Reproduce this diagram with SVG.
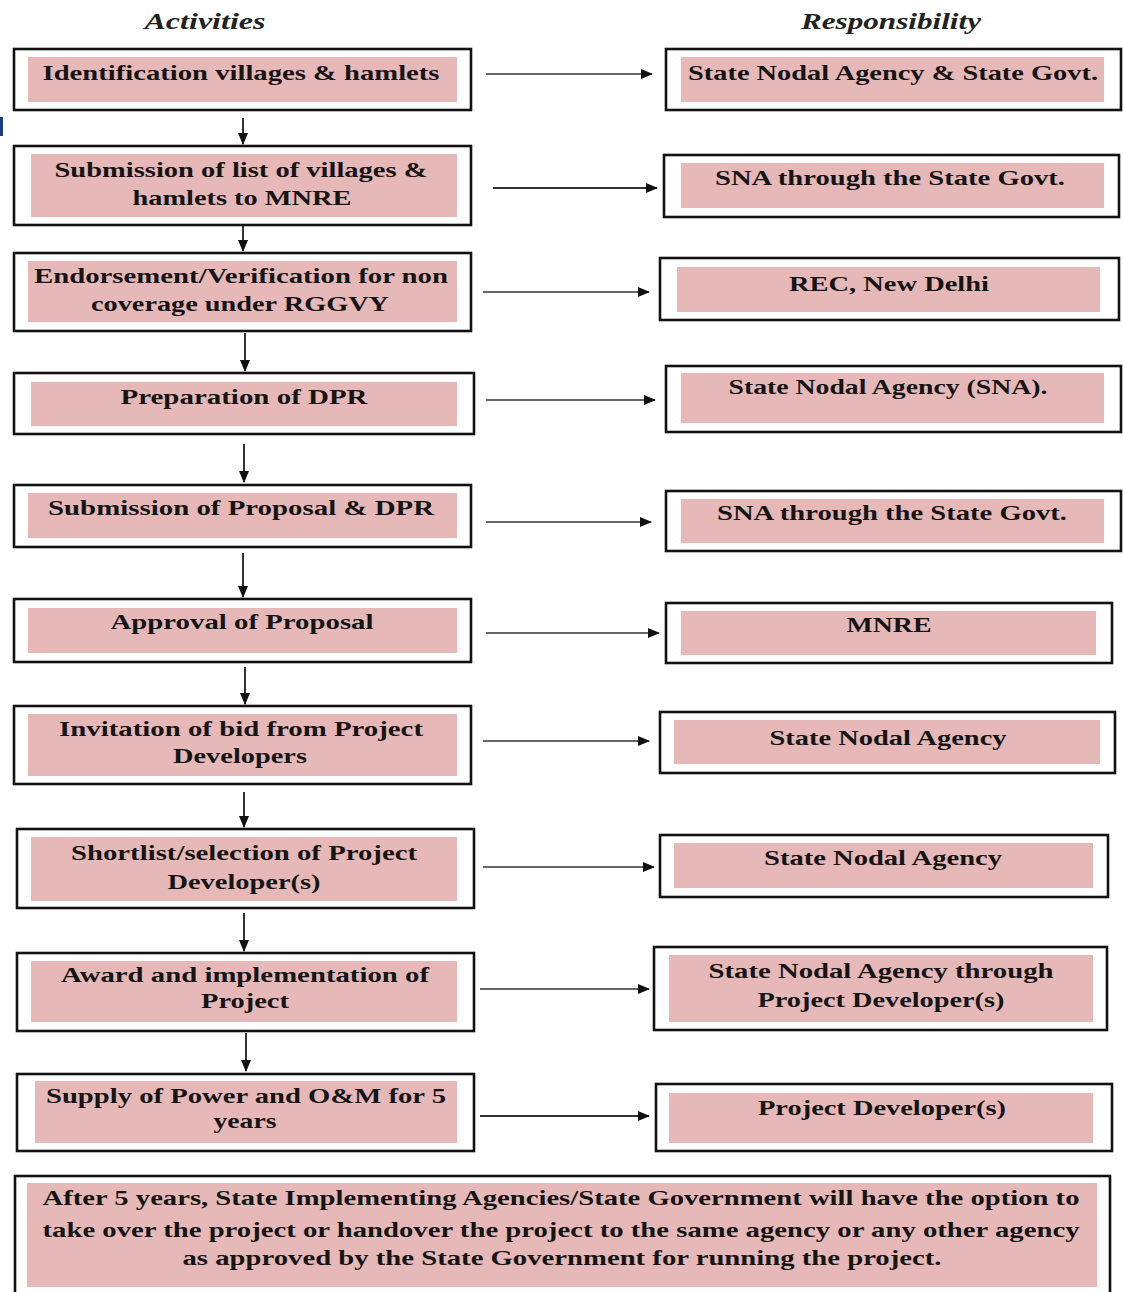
<svg xmlns="http://www.w3.org/2000/svg" width="1123" height="1292" viewBox="0 0 1123 1292">
<style>
.box{fill:#fff;stroke:#111;stroke-width:2.6}
.pk{fill:#E6B8B7}
.t{font-family:"Liberation Serif","Times New Roman",serif;font-weight:bold;font-size:21px;text-anchor:middle;fill:#151515}
.h{font-family:"Liberation Serif","Times New Roman",serif;font-weight:bold;font-style:italic;font-size:23px;text-anchor:middle;fill:#222}
.ar{stroke:#333;stroke-width:2;fill:none;marker-end:url(#ah)}
.arg{stroke:#666;stroke-width:2;fill:none;marker-end:url(#ah)}
</style>
<defs>
<marker id="ah" markerUnits="userSpaceOnUse" markerWidth="12" markerHeight="10" refX="11" refY="5" orient="auto">
<path d="M0,0 L12,5 L0,10 Z" fill="#111"/>
</marker>
</defs>
<rect width="1123" height="1292" fill="#fff"/>
<rect x="0" y="117" width="3" height="19" fill="#1a3a8a"/>
<text class="h" x="205" y="29" textLength="121" lengthAdjust="spacingAndGlyphs">Activities</text>
<text class="h" x="891" y="29" textLength="180" lengthAdjust="spacingAndGlyphs">Responsibility</text>

<g id="connectors">
<path class="ar" d="M243,118 V144"/>
<path class="ar" d="M243,226 V251"/>
<path class="ar" d="M245,333 V371"/>
<path class="ar" d="M244,444 V482"/>
<path class="ar" d="M243,553 V597"/>
<path class="ar" d="M245,667 V704"/>
<path class="ar" d="M244,792 V827"/>
<path class="ar" d="M244,913 V951"/>
<path class="ar" d="M246,1033 V1071"/>
<path class="arg" d="M486,74 H652"/>
<path class="ar" d="M493,188 H657"/>
<path class="arg" d="M483,292 H649"/>
<path class="arg" d="M486,400 H655"/>
<path class="arg" d="M486,522 H651"/>
<path class="arg" d="M486,633 H659"/>
<path class="arg" d="M483,741 H649"/>
<path class="arg" d="M483,867 H654"/>
<path class="arg" d="M480,989 H649"/>
<path class="ar" d="M480,1116 H649"/>
</g>

<g id="a1"><rect class="box" x="14" y="49" width="457" height="61"/><rect class="pk" x="28" y="57" width="429" height="45"/>
<text class="t" x="241" y="80" textLength="397" lengthAdjust="spacingAndGlyphs">Identification villages &amp; hamlets</text></g>
<g id="a2"><rect class="box" x="14" y="146" width="457" height="79"/><rect class="pk" x="31" y="154" width="426" height="63"/>
<text class="t" x="241" y="177" textLength="373" lengthAdjust="spacingAndGlyphs">Submission of list of villages &amp;</text>
<text class="t" x="242" y="205" textLength="219" lengthAdjust="spacingAndGlyphs">hamlets to MNRE</text></g>
<g id="a3"><rect class="box" x="14" y="253" width="457" height="78"/><rect class="pk" x="28" y="261" width="429" height="61"/>
<text class="t" x="241" y="283" textLength="414" lengthAdjust="spacingAndGlyphs">Endorsement/Verification for non</text>
<text class="t" x="240" y="311" textLength="298" lengthAdjust="spacingAndGlyphs">coverage under RGGVY</text></g>
<g id="a4"><rect class="box" x="14" y="373" width="460" height="61"/><rect class="pk" x="31" y="382" width="426" height="44"/>
<text class="t" x="244" y="404" textLength="247" lengthAdjust="spacingAndGlyphs">Preparation of DPR</text></g>
<g id="a5"><rect class="box" x="14" y="485" width="457" height="62"/><rect class="pk" x="28" y="493" width="429" height="45"/>
<text class="t" x="241" y="515" textLength="386" lengthAdjust="spacingAndGlyphs">Submission of Proposal &amp; DPR</text></g>
<g id="a6"><rect class="box" x="14" y="599" width="457" height="63"/><rect class="pk" x="28" y="608" width="429" height="45"/>
<text class="t" x="242" y="629" textLength="263" lengthAdjust="spacingAndGlyphs">Approval of Proposal</text></g>
<g id="a7"><rect class="box" x="14" y="706" width="457" height="78"/><rect class="pk" x="28" y="714" width="429" height="62"/>
<text class="t" x="241" y="736" textLength="364" lengthAdjust="spacingAndGlyphs">Invitation of bid from Project</text>
<text class="t" x="240" y="763" textLength="134" lengthAdjust="spacingAndGlyphs">Developers</text></g>
<g id="a8"><rect class="box" x="17" y="829" width="457" height="79"/><rect class="pk" x="31" y="837" width="426" height="64"/>
<text class="t" x="244" y="860" textLength="346" lengthAdjust="spacingAndGlyphs">Shortlist/selection of Project</text>
<text class="t" x="244" y="889" textLength="153" lengthAdjust="spacingAndGlyphs">Developer(s)</text></g>
<g id="a9"><rect class="box" x="17" y="953" width="457" height="78"/><rect class="pk" x="31" y="961" width="426" height="61"/>
<text class="t" x="245" y="982" textLength="368" lengthAdjust="spacingAndGlyphs">Award and implementation of</text>
<text class="t" x="245" y="1008" textLength="88" lengthAdjust="spacingAndGlyphs">Project</text></g>
<g id="a10"><rect class="box" x="17" y="1074" width="457" height="77"/><rect class="pk" x="35" y="1081" width="422" height="62"/>
<text class="t" x="246" y="1103" textLength="400" lengthAdjust="spacingAndGlyphs">Supply of Power and O&amp;M for 5</text>
<text class="t" x="245" y="1128" textLength="63" lengthAdjust="spacingAndGlyphs">years</text></g>

<g id="r1"><rect class="box" x="666" y="49" width="455" height="61"/><rect class="pk" x="681" y="57" width="423" height="45"/>
<text class="t" x="893" y="80" textLength="410" lengthAdjust="spacingAndGlyphs">State Nodal Agency &amp; State Govt.</text></g>
<g id="r2"><rect class="box" x="664" y="155" width="455" height="62"/><rect class="pk" x="681" y="163" width="423" height="45"/>
<text class="t" x="890" y="185" textLength="350" lengthAdjust="spacingAndGlyphs">SNA through the State Govt.</text></g>
<g id="r3"><rect class="box" x="660" y="258" width="459" height="62"/><rect class="pk" x="677" y="267" width="423" height="45"/>
<text class="t" x="889" y="291" textLength="200" lengthAdjust="spacingAndGlyphs">REC, New Delhi</text></g>
<g id="r4"><rect class="box" x="666" y="366" width="455" height="66"/><rect class="pk" x="681" y="373" width="423" height="50"/>
<text class="t" x="888" y="394" textLength="319" lengthAdjust="spacingAndGlyphs">State Nodal Agency (SNA).</text></g>
<g id="r5"><rect class="box" x="666" y="491" width="455" height="60"/><rect class="pk" x="681" y="499" width="423" height="44"/>
<text class="t" x="892" y="520" textLength="350" lengthAdjust="spacingAndGlyphs">SNA through the State Govt.</text></g>
<g id="r6"><rect class="box" x="666" y="603" width="446" height="60"/><rect class="pk" x="681" y="611" width="415" height="44"/>
<text class="t" x="889" y="632" textLength="85" lengthAdjust="spacingAndGlyphs">MNRE</text></g>
<g id="r7"><rect class="box" x="660" y="712" width="455" height="61"/><rect class="pk" x="674" y="720" width="426" height="44"/>
<text class="t" x="888" y="745" textLength="237" lengthAdjust="spacingAndGlyphs">State Nodal Agency</text></g>
<g id="r8"><rect class="box" x="660" y="835" width="448" height="62"/><rect class="pk" x="674" y="843" width="419" height="45"/>
<text class="t" x="883" y="865" textLength="238" lengthAdjust="spacingAndGlyphs">State Nodal Agency</text></g>
<g id="r9"><rect class="box" x="654" y="947" width="453" height="83"/><rect class="pk" x="669" y="955" width="424" height="67"/>
<text class="t" x="881" y="978" textLength="345" lengthAdjust="spacingAndGlyphs">State Nodal Agency through</text>
<text class="t" x="881" y="1007" textLength="247" lengthAdjust="spacingAndGlyphs">Project Developer(s)</text></g>
<g id="r10"><rect class="box" x="656" y="1084" width="456" height="67"/><rect class="pk" x="669" y="1093" width="424" height="50"/>
<text class="t" x="882" y="1115" textLength="248" lengthAdjust="spacingAndGlyphs">Project Developer(s)</text></g>

<g id="final"><rect class="box" x="15" y="1176" width="1095" height="125"/><rect class="pk" x="27" y="1183" width="1070" height="104"/>
<text class="t" x="561" y="1205" textLength="1037" lengthAdjust="spacingAndGlyphs">After 5 years, State Implementing Agencies/State Government will have the option to</text>
<text class="t" x="561" y="1237" textLength="1037" lengthAdjust="spacingAndGlyphs">take over the project or handover the project to the same agency or any other agency</text>
<text class="t" x="562" y="1265" textLength="759" lengthAdjust="spacingAndGlyphs">as approved by the State Government for running the project.</text></g>
</svg>
